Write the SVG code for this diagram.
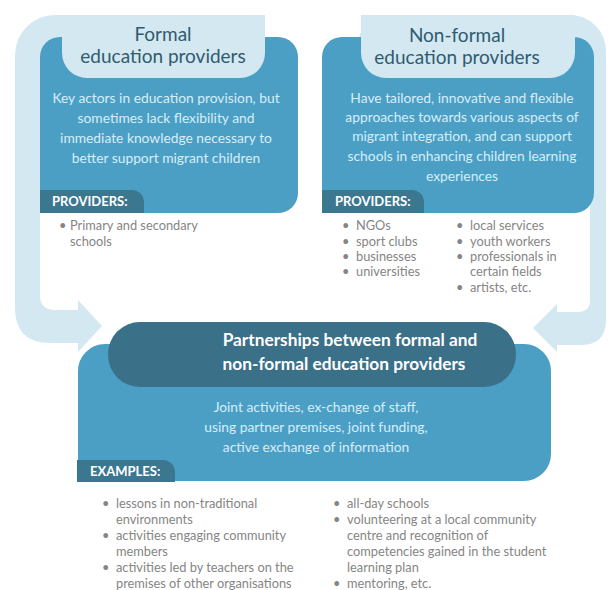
<svg xmlns="http://www.w3.org/2000/svg" width="609" height="590" viewBox="0 0 609 590">
<style>
.light{fill:#d4e8f1}
.box{fill:#4b9fc5}
.tab{fill:#3c7790}
.pill{fill:#3a7088}
.title{font-family:Lato,"Liberation Sans",sans-serif;font-size:19px;fill:#2f5b70;text-anchor:middle}
.body{font-family:Lato,"Liberation Sans",sans-serif;font-size:13.8px;fill:#d6eef8;text-anchor:middle}
.tabtxt{font-family:Lato,"Liberation Sans",sans-serif;font-size:13px;font-weight:bold;fill:#ffffff}
.ptitle{font-family:Lato,"Liberation Sans",sans-serif;font-size:17.3px;font-weight:bold;fill:#ffffff;text-anchor:middle}
.li{font-family:Lato,"Liberation Sans",sans-serif;font-size:12.8px;fill:#858585}
</style>
<g id="connectors">
<path class="light" d="M15,55 A40,40 0 0 1 55,15 L235,15 A30,30 0 0 1 265,45 L265,70 L40,70 L40,295 Q40,310 55,310 L78,310 L78,300 L102,326 L78,352 L78,343 L50,343 Q15,343 15,308 Z"/>
<path class="light" d="M358,45 A30,30 0 0 1 388,15 L570,15 A36,36 0 0 1 606,51 L606,320 Q606,345 581,345 L557,345 L557,352 L533,328 L557,304 L557,312 L578,312 Q590,312 590,300 L590,70 L358,70 Z"/>
</g>
<g id="formal">
<path class="box" d="M40,57 A20,20 0 0 1 60,37 L278,37 A20,20 0 0 1 298,57 L298,193 A20,20 0 0 1 278,213 L40,213 Z"/>
<path class="light" d="M62,15 L265,15 L265,53 A25,25 0 0 1 240,78 L87,78 A25,25 0 0 1 62,53 Z"/>
<text class="title" x="163" y="41">Formal</text>
<text class="title" x="163" y="63">education providers</text>
<text class="body" x="166" y="103">Key actors in education provision, but</text>
<text class="body" x="166" y="123">sometimes lack flexibility and</text>
<text class="body" x="166" y="143">immediate knowledge necessary to</text>
<text class="body" x="166" y="163">better support migrant children</text>
<path class="tab" d="M40,190 H132 A12,12 0 0 1 144,202 V213 H40 Z"/>
<text class="tabtxt" x="52" y="206">PROVIDERS:</text>
<text class="li" x="59" y="230">•</text>
<text class="li" x="70" y="230">Primary and secondary</text>
<text class="li" x="70" y="246">schools</text>
</g>
<g id="nonformal">
<path class="box" d="M322,57 A20,20 0 0 1 342,37 L574,37 A20,20 0 0 1 594,57 L594,193 A20,20 0 0 1 574,213 L322,213 Z"/>
<path class="light" d="M361,15 L575,15 L575,53 A25,25 0 0 1 550,78 L386,78 A25,25 0 0 1 361,53 Z"/>
<text class="title" x="457" y="42">Non-formal</text>
<text class="title" x="457" y="64">education providers</text>
<text class="body" x="462" y="103">Have tailored, innovative and flexible</text>
<text class="body" x="462" y="122">approaches towards various aspects of</text>
<text class="body" x="462" y="141">migrant integration, and can support</text>
<text class="body" x="462" y="161">schools in enhancing children learning</text>
<text class="body" x="462" y="181">experiences</text>
<path class="tab" d="M322,190 H412 A12,12 0 0 1 424,202 V213 H322 Z"/>
<text class="tabtxt" x="335" y="206">PROVIDERS:</text>
<g class="li">
<text x="342" y="230">•</text><text x="356" y="230">NGOs</text>
<text x="342" y="246">•</text><text x="356" y="246">sport clubs</text>
<text x="342" y="261">•</text><text x="356" y="261">businesses</text>
<text x="342" y="276">•</text><text x="356" y="276">universities</text>
<text x="456" y="230">•</text><text x="470" y="230">local services</text>
<text x="456" y="246">•</text><text x="470" y="246">youth workers</text>
<text x="456" y="261">•</text><text x="470" y="261">professionals in</text>
<text x="470" y="276">certain fields</text>
<text x="456" y="292">•</text><text x="470" y="292">artists, etc.</text>
</g>
</g>
<g id="partnerships">
<path class="box" stroke="#ffffff" stroke-width="2" d="M77,371 A28,28 0 0 1 105,343 L524,343 A28,28 0 0 1 552,371 L552,454 A28,28 0 0 1 524,482 L77,482 Z"/>
<rect class="pill" x="108" y="322" width="408" height="65" rx="32"/>
<text class="ptitle" x="350" y="346">Partnerships between formal and</text>
<text class="ptitle" x="344" y="370">non-formal education providers</text>
<text class="body" x="316" y="412">Joint activities, ex-change of staff,</text>
<text class="body" x="316" y="432">using partner premises, joint funding,</text>
<text class="body" x="316" y="452">active exchange of information</text>
<path class="tab" d="M77,460 H163 A12,12 0 0 1 175,472 V482 H77 Z"/>
<text class="tabtxt" x="90" y="476">EXAMPLES:</text>
<g class="li">
<text x="102" y="508">•</text><text x="116" y="508">lessons in non-traditional</text>
<text x="116" y="524">environments</text>
<text x="102" y="540">•</text><text x="116" y="540">activities engaging community</text>
<text x="116" y="556">members</text>
<text x="102" y="572">•</text><text x="116" y="572">activities led by teachers on the</text>
<text x="116" y="588">premises of other organisations</text>
<text x="333" y="508">•</text><text x="347" y="508">all-day schools</text>
<text x="333" y="524">•</text><text x="347" y="524">volunteering at a local community</text>
<text x="347" y="540">centre and recognition of</text>
<text x="347" y="556">competencies gained in the student</text>
<text x="347" y="572">learning plan</text>
<text x="333" y="588">•</text><text x="347" y="588">mentoring, etc.</text>
</g>
</g>
</svg>
